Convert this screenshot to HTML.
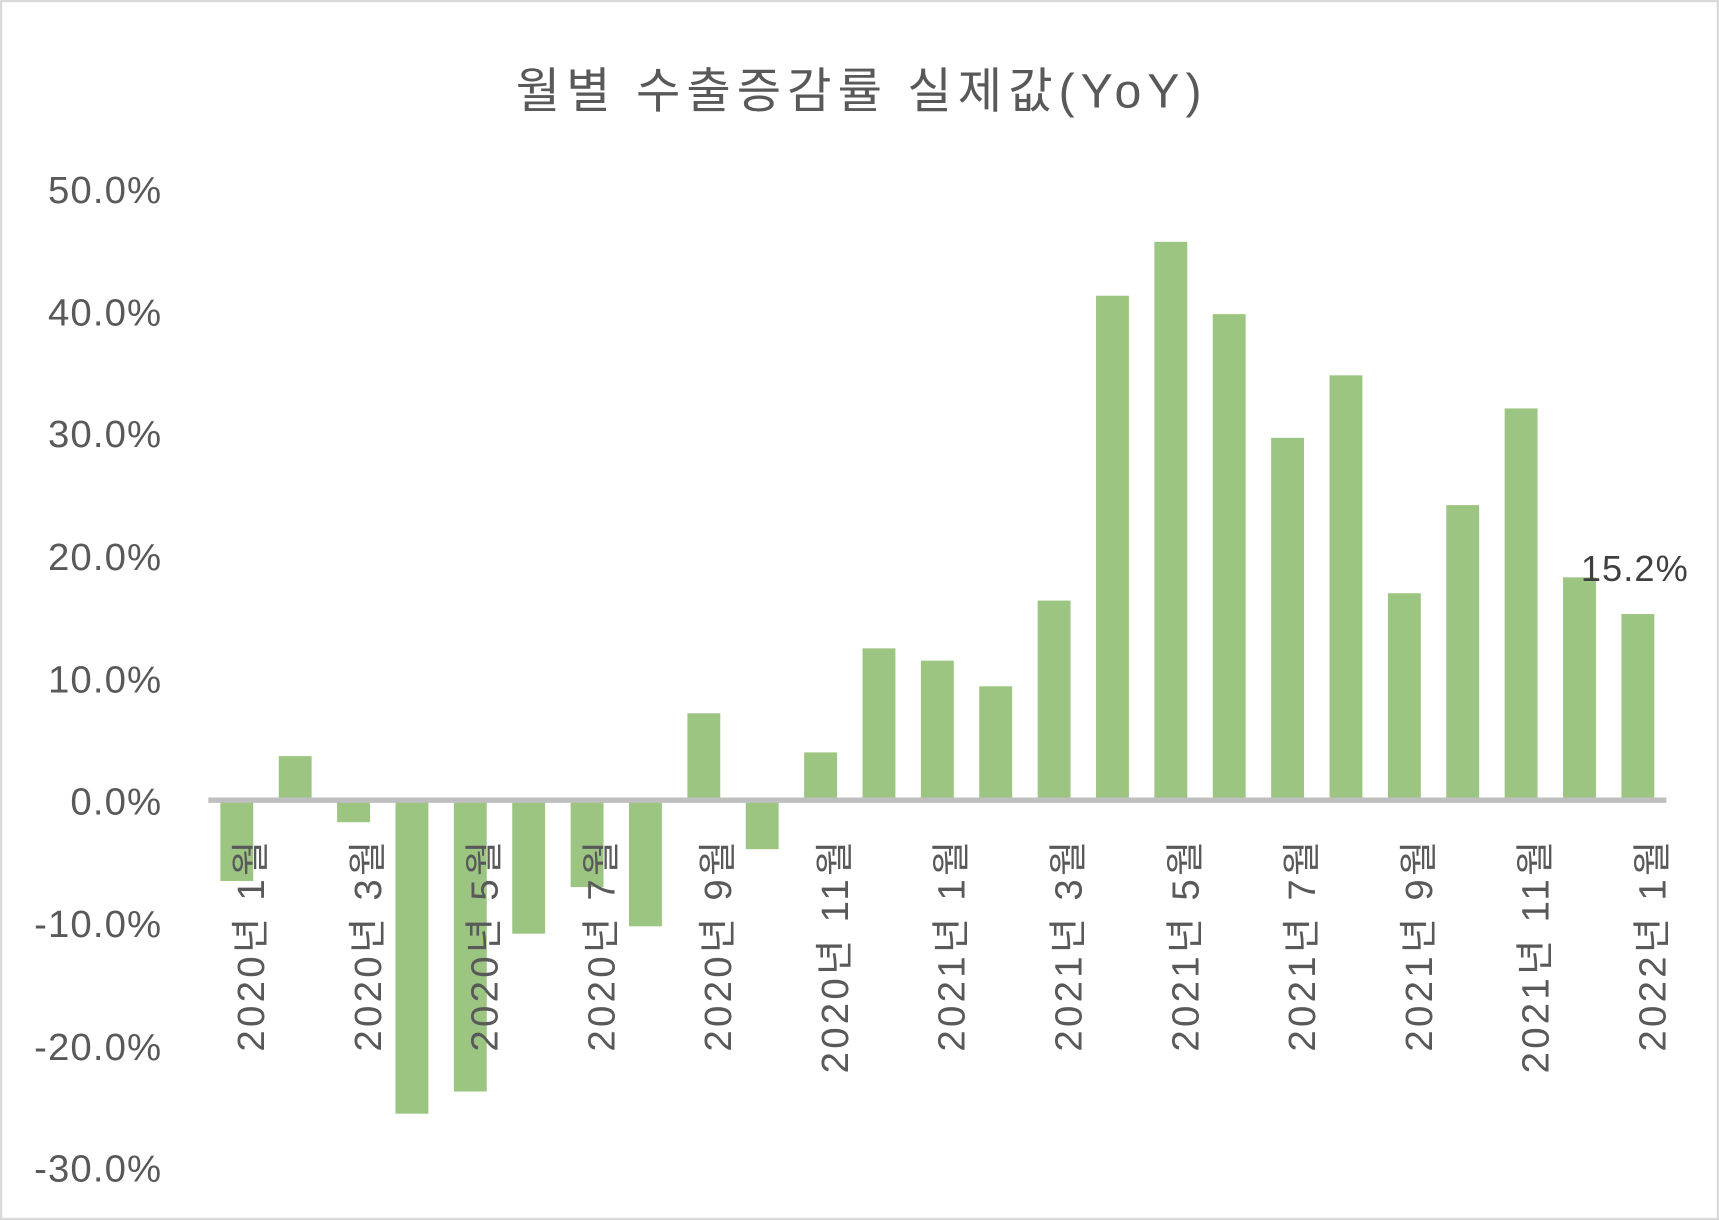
<!DOCTYPE html>
<html><head><meta charset="utf-8"><style>
html,body{margin:0;padding:0;background:#fff;}
svg{display:block;}
text{font-family:"Liberation Sans","Noto Sans CJK KR",sans-serif;}
</style></head><body>
<svg width="1719" height="1220" viewBox="0 0 1568 1113" preserveAspectRatio="none" xmlns="http://www.w3.org/2000/svg">
<rect x="1" y="1" width="1566" height="1111" fill="#fff" stroke="#d9d9d9" stroke-width="2"/>
<text x="786" y="98" text-anchor="middle" font-size="44" letter-spacing="5.5" fill="#595959">월별 수출증감률 실제값(YoY)</text>
<g font-size="35" fill="#595959" text-anchor="end" letter-spacing="1">
<text x="148" y="185">50.0%</text>
<text x="148" y="297">40.0%</text>
<text x="148" y="408">30.0%</text>
<text x="148" y="520">20.0%</text>
<text x="148" y="632">10.0%</text>
<text x="148" y="743">0.0%</text>
<text x="148" y="855">-10.0%</text>
<text x="148" y="967">-20.0%</text>
<text x="148" y="1078">-30.0%</text>
</g>
<g fill="#9dc582">
<rect x="201" y="730" width="30" height="73.7"/>
<rect x="254.25" y="689.8" width="30" height="40.2"/>
<rect x="307.5" y="730" width="30" height="20.1"/>
<rect x="360.75" y="730" width="30" height="286"/>
<rect x="414" y="730" width="30" height="265.8"/>
<rect x="467.25" y="730" width="30" height="121.8"/>
<rect x="520.5" y="730" width="30" height="79.3"/>
<rect x="573.75" y="730" width="30" height="115.1"/>
<rect x="627" y="650.7" width="30" height="79.3"/>
<rect x="680.25" y="730" width="30" height="44.7"/>
<rect x="733.5" y="686.4" width="30" height="43.6"/>
<rect x="786.75" y="591.5" width="30" height="138.5"/>
<rect x="840" y="602.7" width="30" height="127.3"/>
<rect x="893.25" y="626.1" width="30" height="103.9"/>
<rect x="946.5" y="547.9" width="30" height="182.1"/>
<rect x="999.75" y="269.8" width="30" height="460.2"/>
<rect x="1053" y="220.6" width="30" height="509.4"/>
<rect x="1106.25" y="286.6" width="30" height="443.4"/>
<rect x="1159.5" y="399.4" width="30" height="330.6"/>
<rect x="1212.75" y="342.4" width="30" height="387.6"/>
<rect x="1266" y="541.2" width="30" height="188.8"/>
<rect x="1319.25" y="460.8" width="30" height="269.2"/>
<rect x="1372.5" y="372.6" width="30" height="357.4"/>
<rect x="1425.75" y="526.7" width="30" height="203.3"/>
<rect x="1479" y="560.2" width="30" height="169.8"/>
</g>
<line x1="190" y1="730" x2="1520" y2="730" stroke="#bfbfbf" stroke-width="5"/>
<g font-size="35" fill="#595959" text-anchor="end" letter-spacing="3">
<text transform="translate(241,764) rotate(-90)">2020년 1월</text>
<text transform="translate(347.5,764) rotate(-90)">2020년 3월</text>
<text transform="translate(454,764) rotate(-90)">2020년 5월</text>
<text transform="translate(560.5,764) rotate(-90)">2020년 7월</text>
<text transform="translate(667,764) rotate(-90)">2020년 9월</text>
<text transform="translate(773.5,764) rotate(-90)">2020년 11월</text>
<text transform="translate(880,764) rotate(-90)">2021년 1월</text>
<text transform="translate(986.5,764) rotate(-90)">2021년 3월</text>
<text transform="translate(1093,764) rotate(-90)">2021년 5월</text>
<text transform="translate(1199.5,764) rotate(-90)">2021년 7월</text>
<text transform="translate(1306,764) rotate(-90)">2021년 9월</text>
<text transform="translate(1412.5,764) rotate(-90)">2021년 11월</text>
<text transform="translate(1519,764) rotate(-90)">2022년 1월</text>
</g>
<text x="1442" y="530" font-size="33" fill="#404040" letter-spacing="1">15.2%</text>
</svg>
</body></html>
